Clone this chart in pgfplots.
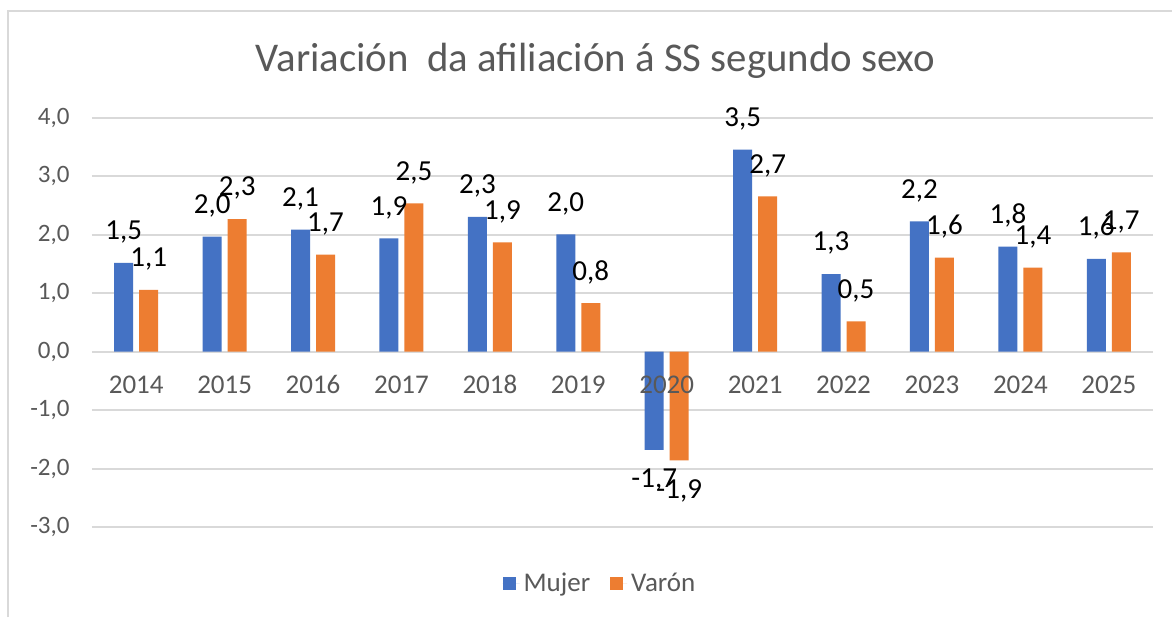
\documentclass[border=0pt]{standalone}
\usepackage{fontspec}
\setmainfont{Carlito}
\usepackage{pgfplots}
\pgfplotsset{compat=1.18}
\definecolor{mujer}{HTML}{4472C4}
\definecolor{varon}{HTML}{ED7D31}
\definecolor{txtgray}{HTML}{595959}
\definecolor{gridgray}{HTML}{D9D9D9}
\tikzset{yearlab/.style={anchor=north, yshift=-9pt, font=\fontsize{13.5}{16}\selectfont,
        text=txtgray, text height=8.6pt, text depth=0pt}}
\begin{document}
\begin{tikzpicture}
\useasboundingbox (0,0) rectangle (586pt,308.5pt);
\fill[white] (0,0) rectangle (586pt,308.5pt);
\draw[gridgray, line width=1pt] (4pt,0) -- (4pt,303pt) -- (586pt,303pt);
\node[txtgray, font=\fontsize{20.4}{24}\selectfont, anchor=base] at (297.75pt,272.5pt)
  {Variación~ da afiliación á SS segundo sexo};
\begin{axis}[
    at={(46pt,45pt)}, anchor=south west,
    scale only axis,
    width=530.5pt, height=204.5pt,
    xmin=-0.5, xmax=11.5,
    ymin=-3, ymax=4,
    axis lines=left,
    axis line style={draw=none},
    major tick length=0pt,
    xtick=\empty,
    ytick={-3,-2,-1,0,1,2,3,4},
    ymajorgrids,
    grid style={draw=gridgray, line width=1pt},
    /pgf/number format/.cd, use comma, fixed, fixed zerofill, precision=1, assume math mode=true,
    /pgfplots/.cd,
    yticklabel style={font=\fontsize{12.5}{15}\selectfont, text=txtgray, xshift=-7.7pt},
    ybar=3pt,
    bar width=9.5pt,
    nodes near coords,
    every node near coord/.append style={font=\fontsize{14.5}{17}\selectfont, text=black, inner ysep=9.5pt},
    legend columns=2,
    legend style={at={(0.4797,-0.139)}, anchor=center, draw=none, fill=none,
        font=\fontsize{13.5}{16}\selectfont, text=txtgray,
        /tikz/every even column/.append style={column sep=8pt}},
    legend image code/.code={\fill[#1] (0pt,-3.25pt) rectangle (6.5pt,3.25pt);
        \path (0pt,0pt) -- (8.5pt,0pt);},
]
\addplot[fill=mujer, draw=none] coordinates {
    (0,1.52) (1,1.97) (2,2.09) (3,1.94) (4,2.31) (5,2.01)
    (6,-1.68) (7,3.46) (8,1.33) (9,2.23) (10,1.80) (11,1.59)
};
\addlegendentry{Mujer}
\addplot[fill=varon, draw=none] coordinates {
    (0,1.06) (1,2.27) (2,1.66) (3,2.54) (4,1.87) (5,0.83)
    (6,-1.86) (7,2.66) (8,0.52) (9,1.61) (10,1.44) (11,1.70)
};
\addlegendentry{Varón}
% year labels sit at the zero line, over the bars
\node[yearlab] at (axis cs:0,0) {2014};
\node[yearlab] at (axis cs:1,0) {2015};
\node[yearlab] at (axis cs:2,0) {2016};
\node[yearlab] at (axis cs:3,0) {2017};
\node[yearlab] at (axis cs:4,0) {2018};
\node[yearlab] at (axis cs:5,0) {2019};
\node[yearlab] at (axis cs:6,0) {2020};
\node[yearlab] at (axis cs:7,0) {2021};
\node[yearlab] at (axis cs:8,0) {2022};
\node[yearlab] at (axis cs:9,0) {2023};
\node[yearlab] at (axis cs:10,0) {2024};
\node[yearlab] at (axis cs:11,0) {2025};
\end{axis}
\end{tikzpicture}
\end{document}
